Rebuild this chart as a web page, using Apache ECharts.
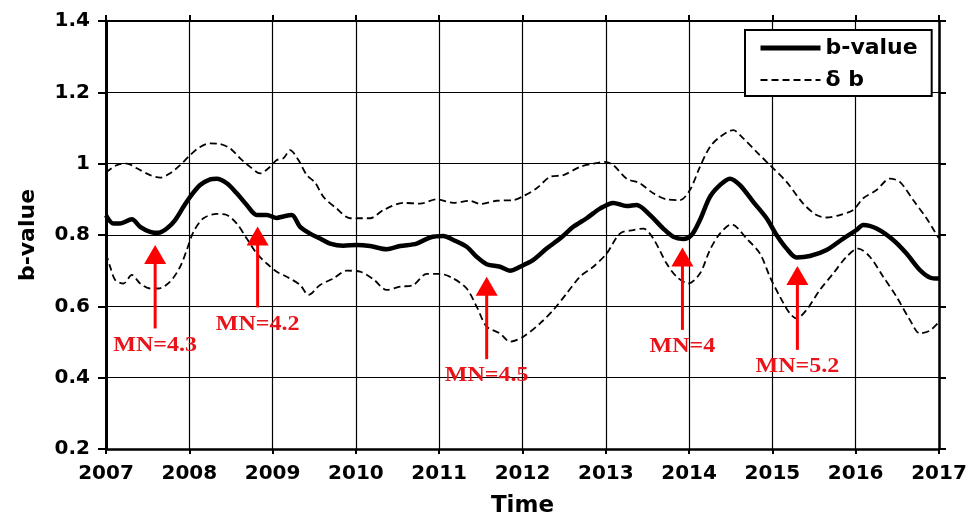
<!DOCTYPE html>
<html>
<head>
<meta charset="utf-8">
<script src="https://cdn.jsdelivr.net/npm/echarts@6/dist/echarts.min.js"></script>
<style>
  html, body { margin: 0; padding: 0; background: #fff; }
  #chart { width: 970px; height: 515px; }
</style>
</head>
<body>
<div id="chart"></div>
<script>
// b-value time series (decimal year, value)
const bTime = [2007.00,2007.09,2007.17,2007.31,2007.41,2007.53,2007.63,2007.73,2007.83,2007.93,
  2008.01,2008.13,2008.25,2008.33,2008.45,2008.57,2008.69,2008.81,2008.93,2009.05,2009.13,2009.23,
  2009.33,2009.45,2009.57,2009.69,2009.85,2010.01,2010.17,2010.37,2010.53,2010.73,2010.89,2011.05,
  2011.17,2011.33,2011.45,2011.57,2011.73,2011.85,2011.97,2012.13,2012.29,2012.45,2012.61,2012.77,
  2012.93,2013.09,2013.25,2013.37,2013.53,2013.69,2013.81,2013.93,2014.03,2014.13,2014.25,2014.37,
  2014.49,2014.61,2014.77,2014.93,2015.05,2015.17,2015.29,2015.45,2015.65,2015.85,2016.01,2016.09,
  2016.25,2016.45,2016.61,2016.77,2016.89,2017.00];
const bValue = [0.855,0.832,0.832,0.844,0.823,0.809,0.806,0.818,0.842,0.879,
  0.907,0.940,0.956,0.958,0.945,0.917,0.884,0.856,0.856,0.848,0.852,0.856,
  0.823,0.804,0.790,0.776,0.770,0.772,0.769,0.760,0.769,0.776,0.793,0.797,
  0.786,0.767,0.739,0.718,0.711,0.700,0.711,0.730,0.762,0.790,0.823,0.847,
  0.874,0.890,0.881,0.884,0.856,0.818,0.795,0.789,0.800,0.842,0.907,0.940,
  0.958,0.940,0.893,0.847,0.800,0.762,0.737,0.741,0.758,0.790,0.814,0.828,
  0.818,0.786,0.748,0.702,0.681,0.678];

// upper uncertainty bound (b + δb)
const upTime = [2007.00,2007.13,2007.25,2007.37,2007.53,2007.65,2007.77,2007.89,2008.01,2008.13,
  2008.25,2008.37,2008.49,2008.61,2008.73,2008.85,2008.95,2009.05,2009.13,2009.21,2009.31,2009.41,
  2009.51,2009.61,2009.77,2009.93,2010.17,2010.33,2010.57,2010.77,2010.97,2011.17,2011.37,2011.49,
  2011.69,2011.89,2012.01,2012.17,2012.33,2012.49,2012.69,2012.85,2012.99,2013.09,2013.25,2013.41,
  2013.57,2013.73,2013.89,2014.01,2014.13,2014.25,2014.37,2014.53,2014.65,2014.81,2014.97,2015.17,
  2015.37,2015.53,2015.65,2015.81,2015.97,2016.09,2016.25,2016.41,2016.53,2016.69,2016.85,2016.95,
  2017.00];
const upValue = [0.975,0.996,1.000,0.987,0.968,0.961,0.973,0.996,1.024,1.047,
  1.057,1.055,1.043,1.015,0.991,0.973,0.987,1.010,1.015,1.038,1.010,0.968,
  0.947,0.907,0.874,0.847,0.847,0.870,0.890,0.888,0.900,0.890,0.896,0.887,
  0.896,0.898,0.909,0.931,0.963,0.968,0.991,1.000,1.005,0.996,0.958,0.945,
  0.917,0.900,0.898,0.926,0.991,1.047,1.075,1.094,1.071,1.033,0.996,0.949,
  0.888,0.856,0.849,0.856,0.870,0.903,0.926,0.958,0.949,0.898,0.847,0.809,
  0.790];

// lower uncertainty bound (b - δb)
const lowTime = [2007.00,2007.05,2007.11,2007.21,2007.31,2007.41,2007.53,2007.63,2007.77,2007.89,
  2007.97,2008.05,2008.17,2008.33,2008.45,2008.57,2008.69,2008.81,2008.93,2009.05,2009.17,2009.33,
  2009.43,2009.57,2009.73,2009.89,2010.05,2010.21,2010.37,2010.53,2010.69,2010.85,2011.01,2011.17,
  2011.33,2011.45,2011.57,2011.73,2011.85,2012.01,2012.21,2012.37,2012.53,2012.69,2012.85,2013.01,
  2013.17,2013.33,2013.45,2013.57,2013.73,2013.85,2013.99,2014.13,2014.25,2014.37,2014.51,2014.69,
  2014.85,2014.97,2015.09,2015.21,2015.29,2015.41,2015.57,2015.73,2015.89,2016.03,2016.17,2016.33,
  2016.49,2016.65,2016.77,2016.89,2017.00];
const lowValue = [0.748,0.711,0.674,0.664,0.688,0.664,0.650,0.650,0.669,0.711,
  0.758,0.809,0.847,0.859,0.856,0.832,0.790,0.748,0.720,0.697,0.683,0.660,
  0.632,0.660,0.678,0.700,0.697,0.676,0.646,0.655,0.660,0.691,0.691,0.678,
  0.650,0.599,0.543,0.524,0.501,0.515,0.552,0.590,0.636,0.683,0.711,0.748,
  0.804,0.814,0.818,0.790,0.720,0.683,0.664,0.692,0.758,0.804,0.830,0.790,
  0.748,0.683,0.627,0.580,0.566,0.590,0.646,0.692,0.739,0.762,0.739,0.683,
  0.627,0.562,0.524,0.532,0.556];

// event markers: arrow position (year), arrow tip value, arrow tail value, label
const eventTime  = [2007.59, 2008.82, 2011.57, 2013.92, 2015.30];
const eventTip   = [0.772, 0.824, 0.683, 0.765, 0.713];
const eventTail  = [0.538, 0.597, 0.452, 0.534, 0.478];
const eventLabel = ['MN=4.3', 'MN=4.2', 'MN=4.5', 'MN=4', 'MN=5.2'];

const yearTicks = [2007, 2017, 1];   // min, max, step
const valueTicks = [0.2, 1.4, 0.2];  // min, max, step

const zip = (xs, ys) => xs.map((x, i) => [x, ys[i]]);

const FONT = '"DejaVu Sans", Arial, sans-serif';
const RED = '#ff0000';

const chart = echarts.init(document.getElementById('chart'), null, { renderer: 'canvas' });

const axisBase = {
  axisLine: { show: true, onZero: false, lineStyle: { color: '#000', width: 2.5 } },
  axisTick: { show: true, inside: false, length: 6, lineStyle: { color: '#000', width: 2 } },
  splitLine: { show: false }
};

chart.setOption({
  animation: false,
  backgroundColor: '#fff',
  grid: { left: 106, right: 31, top: 21, bottom: 66, containLabel: false, outerBoundsMode: 'none' },
  legend: {
    data: [
      { name: 'b-value', lineStyle: { width: 5, color: '#000' } },
      { name: 'δ b', lineStyle: { width: 1.8, color: '#000', type: [7, 4] } }
    ],
    orient: 'vertical',
    left: 745,
    top: 30,
    padding: [7, 14, 5, 13],
    itemGap: 10,
    itemWidth: 60,
    itemHeight: 22,
    itemTextGap: 6,
    itemStyle: { opacity: 0 },
    borderColor: '#000',
    borderWidth: 2,
    borderRadius: 0,
    backgroundColor: '#fff',
    selectedMode: false,
    textStyle: { fontFamily: FONT, fontWeight: 'bold', fontSize: 22, color: '#000' }
  },
  xAxis: [
    Object.assign({}, axisBase, {
      type: 'value', position: 'bottom',
      min: yearTicks[0], max: yearTicks[1], interval: yearTicks[2],
      name: 'Time', nameLocation: 'middle', nameGap: 46,
      nameTextStyle: { fontFamily: FONT, fontWeight: 'bold', fontSize: 23, color: '#000' },
      axisTick: { show: true, inside: false, length: 5, lineStyle: { color: '#000', width: 2 } },
      axisLabel: { margin: 15, fontFamily: FONT, fontWeight: 'bold', fontSize: 20, color: '#000',
        formatter: v => String(v) },
      splitLine: { show: true, lineStyle: { color: '#000', width: 1.2 } }
    }),
    Object.assign({}, axisBase, {
      type: 'value', position: 'top',
      min: yearTicks[0], max: yearTicks[1], interval: yearTicks[2],
      axisLabel: { show: false },
      axisLine: { show: true, onZero: false, lineStyle: { color: '#000', width: 2 } }
    })
  ],
  yAxis: [
    Object.assign({}, axisBase, {
      type: 'value', position: 'left',
      min: valueTicks[0], max: valueTicks[1], interval: valueTicks[2],
      name: 'b-value', nameLocation: 'middle', nameGap: 67, nameRotate: 90,
      nameTextStyle: { fontFamily: FONT, fontWeight: 'bold', fontSize: 22, color: '#000' },
      axisLine: { show: true, onZero: false, lineStyle: { color: '#000', width: 3 } },
      axisTick: { show: true, inside: false, length: 8, lineStyle: { color: '#000', width: 2 } },
      axisLabel: { margin: 16, fontFamily: FONT, fontWeight: 'bold', fontSize: 20, color: '#000',
        formatter: v => String(+v.toFixed(1)) },
      splitLine: { show: true, lineStyle: { color: '#000', width: 1.2 } }
    }),
    Object.assign({}, axisBase, {
      type: 'value', position: 'right',
      min: valueTicks[0], max: valueTicks[1], interval: valueTicks[2],
      axisLabel: { show: false },
      axisTick: { show: true, inside: false, length: 7, lineStyle: { color: '#000', width: 2 } },
      axisLine: { show: true, onZero: false, lineStyle: { color: '#000', width: 2.5 } }
    })
  ],
  series: [
    {
      name: 'δ b', type: 'line', data: zip(upTime, upValue),
      symbol: 'none', smooth: 0.3, z: 2,
      lineStyle: { color: '#000', width: 1.8, type: [7, 4] },
      itemStyle: { color: '#000' }
    },
    {
      name: 'δ b', type: 'line', data: zip(lowTime, lowValue),
      symbol: 'none', smooth: 0.3, z: 2,
      lineStyle: { color: '#000', width: 1.8, type: [7, 4] },
      itemStyle: { color: '#000' }
    },
    {
      name: 'b-value', type: 'line', data: zip(bTime, bValue),
      symbol: 'none', smooth: 0.3, z: 3,
      lineStyle: { color: '#000', width: 4.5 },
      itemStyle: { color: '#000' }
    },
    {
      name: 'events', type: 'custom', z: 4,
      data: eventTime.map((t, i) => [t, eventTip[i], eventTail[i], i]),
      encode: { x: 0, y: [1, 2] },
      clip: false,
      renderItem: (params, api) => {
        const t = api.value(0);
        const tip = api.coord([t, api.value(1)]);
        const tail = api.coord([t, api.value(2)]);
        const headW = 22, headH = 19;
        return {
          type: 'group',
          children: [
            {
              type: 'line',
              shape: { x1: tail[0], y1: tail[1], x2: tip[0], y2: tip[1] + headH - 1 },
              style: { stroke: RED, lineWidth: 3 }
            },
            {
              type: 'polygon',
              shape: { points: [[tip[0], tip[1]], [tip[0] - headW / 2, tip[1] + headH], [tip[0] + headW / 2, tip[1] + headH]] },
              style: { fill: RED }
            },
            {
              type: 'text',
              x: tail[0], y: tail[1] + 7,
              scaleX: 1.2,
              style: {
                text: eventLabel[api.value(3)],
                x: 0, y: 0,
                align: 'center', verticalAlign: 'top',
                fill: '#e8141a',
                font: 'bold 20px "Liberation Serif", "Times New Roman", serif'
              }
            }
          ]
        };
      }
    }
  ]
});
</script>
</body>
</html>
